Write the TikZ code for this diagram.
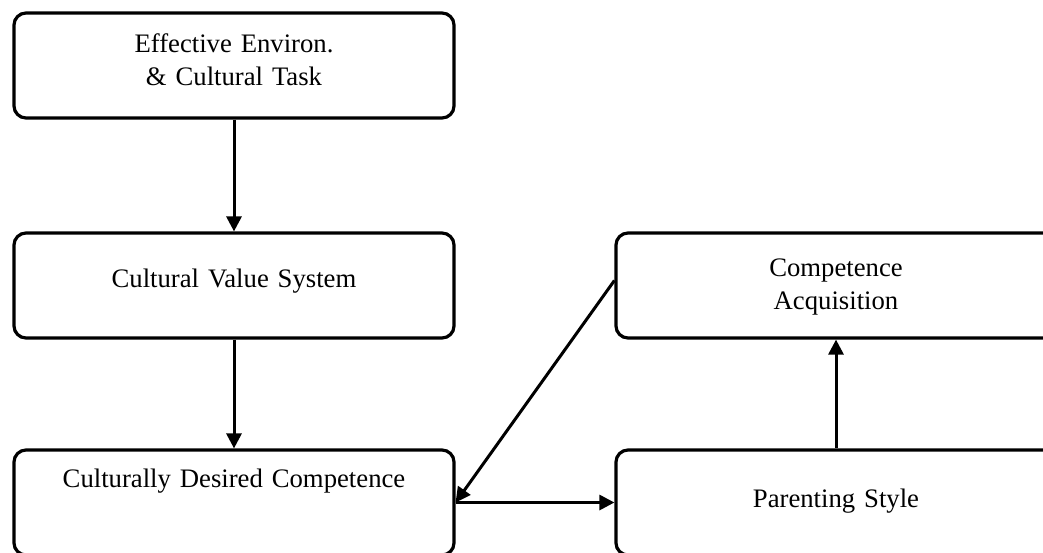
\documentclass[tikz,border=0pt]{standalone}
\usepackage{fontspec}
\setmainfont{Liberation Serif}
\usetikzlibrary{shapes, arrows.meta}

\begin{document}
\begin{tikzpicture}[x=1pt, y=1pt, node distance=220pt, auto, >={Triangle[length=15pt, width=15pt]}]
    \tikzstyle{block} = [rectangle, draw, line width=3.2pt, text width=420pt, align=center, rounded corners=12pt, minimum width=440pt, minimum height=105pt, font=\fontsize{26.7}{33}\selectfont]
    \tikzstyle{line} = [draw, ->, line width=3pt]

    \useasboundingbox (0,0) rectangle (1043,-552);
    \clip (0,0) rectangle (1043,-552);

    % Nodes
    \node [block, text depth=45pt] (env) at (234,-65.5) {Effective Environ.\\ \& Cultural Task};
    \node [block, below of=env, text depth=14pt] (values) {Cultural Value System};
    \node [block, below of=values, node distance=217pt, text depth=48pt] (desired) {Culturally Desired Competence};
    \node [block, right of=values, node distance=602pt, text depth=36pt] (acquis) {Competence\\ Acquisition};
    \node [block, right of=desired, node distance=602pt, text depth=9pt] (parenting) {Parenting Style};

    % Paths
    \path [line] (env) -- (values);
    \path [line] (values) -- (desired);
    \path [line] ([yshift=5pt]acquis.west) -- (desired.east);
    \path [line] (desired) -- (parenting);
    \path [line] (parenting) -- (acquis);

\end{tikzpicture}
\end{document}
